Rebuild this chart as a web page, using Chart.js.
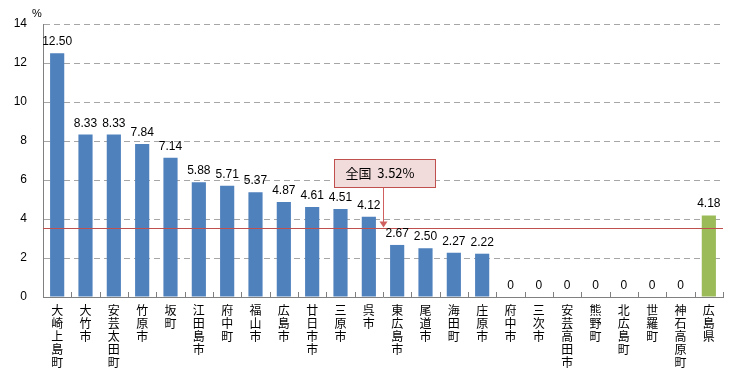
<!DOCTYPE html>
<html>
<head>
<meta charset="utf-8">
<script src="https://cdn.jsdelivr.net/npm/chart.js@4.4.1/dist/chart.umd.min.js"></script>
<style>
html,body{margin:0;padding:0;background:#fff;}
#wrap{width:756px;height:379px;position:relative;}
</style>
</head>
<body>
<div id="wrap"><canvas id="c" width="756" height="379"></canvas></div>
<script>
const categories = ["大崎上島町","大竹市","安芸太田町","竹原市","坂町","江田島市","府中町","福山市","広島市","廿日市市","三原市","呉市","東広島市","尾道市","海田町","庄原市","府中市","三次市","安芸高田市","熊野町","北広島町","世羅町","神石高原町","広島県"];
const values = [12.50,8.33,8.33,7.84,7.14,5.88,5.71,5.37,4.87,4.61,4.51,4.12,2.67,2.50,2.27,2.22,0,0,0,0,0,0,0,4.18];
const nationalValue = 3.52;
const nationalLabel = "全国  3.52%";
const yTicks = [0,2,4,6,8,10,12,14];
const unitLabel = "%";

const BLUE = '#4f81bd', GREEN = '#9bbb59', RED = '#c0504d';
const NUMFONT = '"Liberation Sans", Arial, sans-serif';
const JPFONT = '"Noto Sans CJK JP", sans-serif';

const overlay = {
  id: 'overlay',
  beforeDatasetsDraw(chart) {
    const ctx = chart.ctx, area = chart.chartArea;
    ctx.save();
    ctx.strokeStyle = '#808080'; ctx.lineWidth = 1;
    const n = categories.length, w = (area.right - area.left) / n;
    for (let i = 1; i <= n; i++) {
      const px = Math.round(area.left + i * w) + 0.5;
      ctx.beginPath(); ctx.moveTo(px, area.bottom); ctx.lineTo(px, area.bottom - 5); ctx.stroke();
    }
    ctx.restore();
  },
  afterDatasetsDraw(chart) {
    const ctx = chart.ctx, x = chart.scales.x, y = chart.scales.y, area = chart.chartArea;
    const meta = chart.getDatasetMeta(0);
    ctx.save();
    // national reference line
    const ry = Math.round(y.getPixelForValue(nationalValue)) + 0.5;
    ctx.strokeStyle = RED; ctx.lineWidth = 1;
    ctx.beginPath(); ctx.moveTo(area.left, ry); ctx.lineTo(area.right, ry); ctx.stroke();
    // value labels
    ctx.fillStyle = '#000'; ctx.font = '12px ' + NUMFONT;
    ctx.textAlign = 'center'; ctx.textBaseline = 'alphabetic';
    meta.data.forEach((bar, i) => {
      const v = values[i];
      const txt = v === 0 ? '0' : v.toFixed(2);
      ctx.fillText(txt, bar.x, bar.y - 8);
    });
    // unit label
    ctx.font = '11px ' + NUMFONT; ctx.textAlign = 'center';
    ctx.fillText(unitLabel, area.left - 6, area.top - 7);
    // annotation box
    const cx = (x.getPixelForValue(11) + x.getPixelForValue(12)) / 2;
    const bw = 101, bh = 28;
    const bx = Math.round(cx - 49) + 0.5, by = Math.round(y.getPixelForValue(7.08)) + 0.5;
    ctx.fillStyle = '#f2dcdb'; ctx.strokeStyle = RED;
    ctx.fillRect(bx, by, bw, bh); ctx.strokeRect(bx, by, bw, bh);
    ctx.fillStyle = '#000'; ctx.font = '13px ' + JPFONT; ctx.textAlign = 'left'; ctx.textBaseline = 'middle';
    ctx.fillText(nationalLabel, bx + 11, by + bh / 2);
    // arrow
    const ax = Math.round(cx) + 0.5;
    ctx.strokeStyle = '#d06060'; ctx.fillStyle = '#d06060';
    ctx.beginPath(); ctx.moveTo(ax, by + bh); ctx.lineTo(ax, ry - 6); ctx.stroke();
    ctx.beginPath(); ctx.moveTo(ax - 4, ry - 7); ctx.lineTo(ax + 4, ry - 7); ctx.lineTo(ax, ry - 1); ctx.closePath(); ctx.fill();
    ctx.restore();
  }
};

new Chart(document.getElementById('c'), {
  type: 'bar',
  data: {
    labels: categories.map(s => Array.from(s)),
    datasets: [{
      data: values,
      backgroundColor: values.map((v, i) => i === values.length - 1 ? GREEN : BLUE),
      borderWidth: 0,
      barPercentage: 0.5,
      categoryPercentage: 1.0
    }]
  },
  options: {
    responsive: false,
    animation: false,
    devicePixelRatio: 1,
    layout: { padding: { top: 24, right: 33, left: 0, bottom: 0 } },
    plugins: { legend: { display: false }, tooltip: { enabled: false } },
    scales: {
      x: {
        grid: { display: false, drawTicks: false },
        border: { display: true, color: '#808080', width: 1 },
        ticks: {
          autoSkip: false, maxRotation: 0, minRotation: 0, padding: 7,
          color: '#000', font: { family: JPFONT, size: 12, lineHeight: 1.09 }
        },
        afterFit(s) { s.height = 82; }
      },
      y: {
        min: 0, max: 14,
        afterBuildTicks(s) { s.ticks = yTicks.map(v => ({ value: v })); },
        grid: {
          drawTicks: false,
          color: ctx => ctx.tick && ctx.tick.value === 0 ? 'rgba(0,0,0,0)' : '#a6a6a6',
          lineWidth: 1
        },
        border: { display: true, color: '#808080', width: 1, dash: [6, 4] },
        ticks: { padding: 16, color: '#000', font: { family: NUMFONT, size: 12 } },
        afterFit(s) { s.width = 43; }
      }
    }
  },
  plugins: [overlay]
});
</script>
</body>
</html>
